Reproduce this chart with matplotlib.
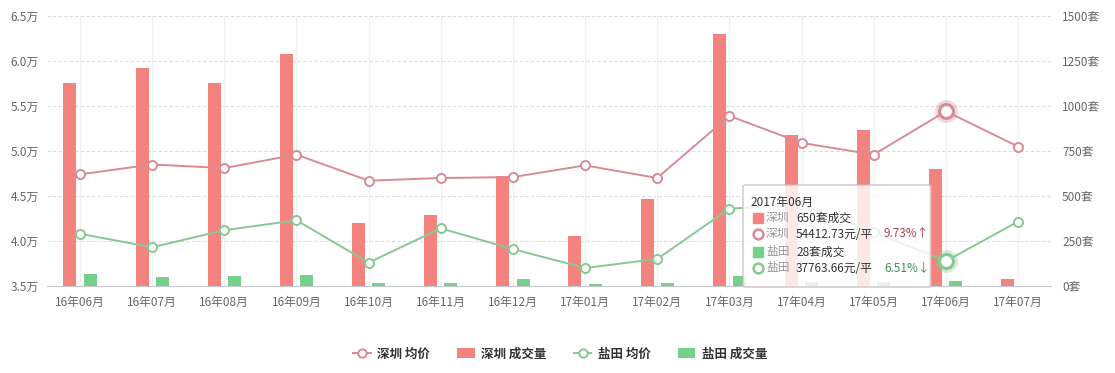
import matplotlib
matplotlib.use("Agg")
import matplotlib.pyplot as plt
from matplotlib.lines import Line2D
from matplotlib.patches import Patch, FancyBboxPatch
import numpy as np

plt.rcParams['font.family'] = ['Noto Sans CJK SC', 'DejaVu Sans']

months = ['16年06月', '16年07月', '16年08月', '16年09月', '16年10月', '16年11月', '16年12月',
          '17年01月', '17年02月', '17年03月', '17年04月', '17年05月', '17年06月', '17年07月']
sz_volume = [1130, 1210, 1130, 1290, 350, 395, 610, 280, 485, 1400, 840, 865, 650, 40]
yt_volume = [67, 50, 56, 61, 17, 17, 39, 11, 17, 57, 25, 25, 28, 0]
# average price, 元/平
sz_price = [47400, 48500, 48100, 49600, 46700, 47000, 47100, 48400, 47000, 53900,
            50900, 49600, 54412.73, 50500]
yt_price = [40800, 39300, 41200, 42300, 37600, 41400, 39100, 37000, 38000, 43600,
            44000, 41000, 37763.66, 42150]
sz_change = '9.73%↑'
yt_change = '6.51%↓'
left_ticks = [3.5, 4.0, 4.5, 5.0, 5.5, 6.0, 6.5]
left_labels = ['3.5万', '4.0万', '4.5万', '5.0万', '5.5万', '6.0万', '6.5万']
right_ticks = [0, 250, 500, 750, 1000, 1250, 1500]
right_labels = ['0套', '250套', '500套', '750套', '1000套', '1250套', '1500套']
hl = 12  # highlighted month index (tooltip)
tooltip_title = '2017年06月'

C_SZ_BAR = '#f4837f'
C_YT_BAR = '#74d08b'
C_SZ_LINE = '#d98b95'
C_YT_LINE = '#86c992'
TXT = '#666666'

W, H = 1115, 373
fig = plt.figure(figsize=(W / 100, H / 100), dpi=100)
fig.patch.set_facecolor('white')

def fx(x):
    return x / W

def fy(y):
    return 1 - y / H

ax = fig.add_axes([fx(47), fy(286), fx(1051) - fx(47), fy(16) - fy(286)])
ax2 = ax.twinx()

x = np.arange(len(months))
xl = -(80 - 47) / 72.15
xr = 13 + (1051 - 1018) / 72.15

# bars on right axis
ax2.bar(x - 0.14, sz_volume, width=0.18, color=C_SZ_BAR, zorder=2)
ax2.bar(x + 0.14, yt_volume, width=0.18, color=C_YT_BAR, zorder=2)
ax2.set_ylim(0, 1500)
ax2.set_yticks(right_ticks)
ax2.set_yticklabels(right_labels)

ax.set_ylim(3.5, 6.5)
ax.set_xlim(xl, xr)
ax.set_yticks(left_ticks)
ax.set_yticklabels(left_labels)
ax.set_xticks(x)
ax.set_xticklabels(months)

# grid
for t in left_ticks[1:]:
    ax.axhline(t, color='#dcdcdc', lw=0.8, ls=(0, (3, 2)), zorder=0)
for xi in x:
    ax.axvline(xi, color='#efefef', lw=0.8, zorder=0)

# lines drawn on ax2 (above bars), converting price (元) to the right-axis scale
def to_right(v):
    return [(p / 10000 - 3.5) / 3.0 * 1500 for p in v]

ax.set_zorder(ax2.get_zorder() - 1)
ax.patch.set_visible(False)
ax2.patch.set_visible(False)

ax2.plot(x, to_right(sz_price), color=C_SZ_LINE, lw=1.4, marker='o', ms=6.5,
         mfc='white', mec=C_SZ_LINE, mew=1.4, zorder=4)
ax2.plot(x, to_right(yt_price), color=C_YT_LINE, lw=1.4, marker='o', ms=6.5,
         mfc='white', mec=C_YT_LINE, mew=1.4, zorder=4)
# highlighted points
for vals, c in ((sz_price, C_SZ_LINE), (yt_price, C_YT_LINE)):
    ax2.plot([x[hl]], to_right([vals[hl]]), marker='o', ms=13, mfc='none', mec=c,
             mew=3.5, alpha=0.35, zorder=5, ls='none')
    ax2.plot([x[hl]], to_right([vals[hl]]), marker='o', ms=10, mfc='white', mec=c,
             mew=2.2, zorder=6, ls='none')

for a in (ax, ax2):
    for s in a.spines.values():
        s.set_visible(False)
    a.tick_params(length=0, labelsize=8.5, colors=TXT)
ax.spines['bottom'].set_visible(True)
ax.spines['bottom'].set_color('#c8c8d0')
ax.tick_params(axis='x', pad=7)
ax.tick_params(axis='y', pad=6)
ax2.tick_params(axis='y', pad=8)

# tooltip
box = FancyBboxPatch((fx(743), fy(287)), fx(931) - fx(743), fy(185) - fy(287),
                     boxstyle='round,pad=0,rounding_size=0.003', transform=fig.transFigure,
                     facecolor='white', edgecolor='#c9b7b7', lw=1.0, alpha=0.82, zorder=10)
fig.add_artist(box)
fig.text(fx(750), fy(202), tooltip_title, fontsize=8.5, color='#333333', va='center', zorder=11)
rows = [
    ('s', C_SZ_BAR, '深圳', f'{sz_volume[hl]}套成交', '', None),
    ('o', C_SZ_LINE, '深圳', f'{sz_price[hl]:.2f}元/平', sz_change, '#a8404a'),
    ('s', C_YT_BAR, '盐田', f'{yt_volume[hl]}套成交', '', None),
    ('o', C_YT_LINE, '盐田', f'{yt_price[hl]:.2f}元/平', yt_change, '#3f8f55'),
]
row_y = [218, 234, 252, 268]
for (mk, c, name, val, pct, pc), yy in zip(rows, row_y):
    if mk == 's':
        fig.add_artist(Line2D([fx(758)], [fy(yy)], marker='s', ms=7.5, mfc=c, mec=c,
                              ls='none', transform=fig.transFigure, zorder=11))
    else:
        fig.add_artist(Line2D([fx(758)], [fy(yy)], marker='o', ms=7, mfc='white', mec=c,
                              mew=1.8, ls='none', transform=fig.transFigure, zorder=11))
    fig.text(fx(766), fy(yy), name, fontsize=8.5, color='#999999', va='center', zorder=11)
    fig.text(fx(796), fy(yy), val, fontsize=8.5, color='#333333', va='center', zorder=11)
    if pct:
        fig.text(fx(884), fy(yy), pct, fontsize=8.5, color=pc, va='center', zorder=11)

# legend
handles = [
    Line2D([], [], color=C_SZ_LINE, lw=1.4, marker='o', ms=6, mfc='white', mec=C_SZ_LINE, mew=1.4),
    Patch(facecolor=C_SZ_BAR, edgecolor='none'),
    Line2D([], [], color=C_YT_LINE, lw=1.4, marker='o', ms=6, mfc='white', mec=C_YT_LINE, mew=1.4),
    Patch(facecolor=C_YT_BAR, edgecolor='none'),
]
labels = ['深圳 均价', '深圳 成交量', '盐田 均价', '盐田 成交量']
leg = fig.legend(handles, labels, loc='center', bbox_to_anchor=(fx(560), fy(354)), ncol=4,
                 frameon=False, fontsize=9, handlelength=1.4, handleheight=0.9,
                 columnspacing=2.2, handletextpad=0.5)
for t in leg.get_texts():
    t.set_color('#333333')
    t.set_fontweight('bold')

fig.savefig('out.png', dpi=100, facecolor='white')
